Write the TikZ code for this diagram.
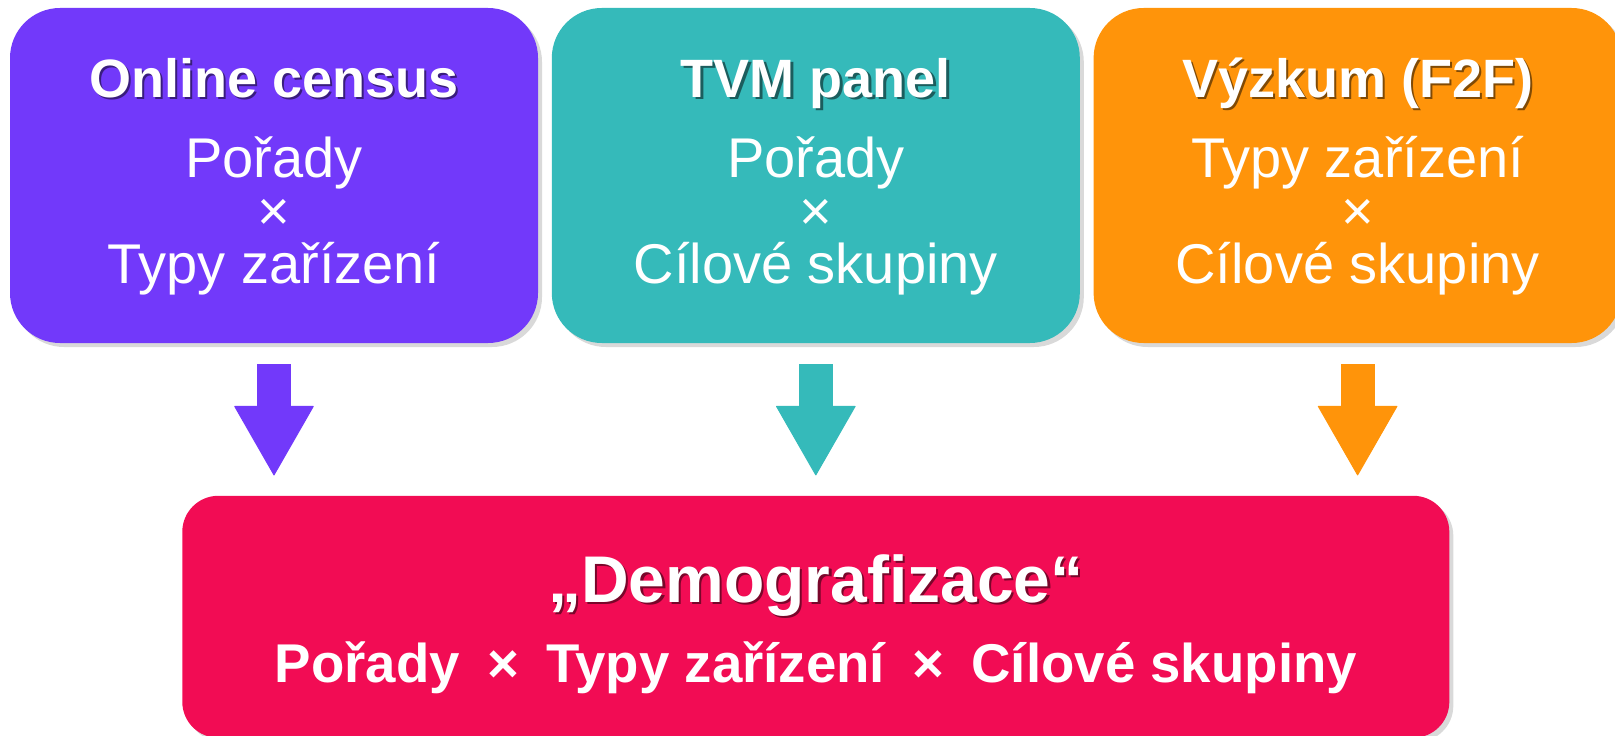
\documentclass[tikz,border=0pt]{standalone}
\usepackage{fontspec}
\setmainfont{Liberation Sans}
\usetikzlibrary{arrows.meta, positioning, shadows}

\definecolor{censuscol}{RGB}{114,57,250}
\definecolor{panelcol}{RGB}{53,186,186}
\definecolor{surveycol}{RGB}{255,148,10}
\definecolor{demogcol}{RGB}{242,12,84}

% white text with a dark offset copy behind it
\newcommand{\shd}[2]{\rlap{\kern1.2pt\raisebox{-1.2pt}{\textcolor{#1!50!black}{#2}}}#2}
\newcommand{\gap}{\hspace{0.5em}}

\begin{document}
\begin{tikzpicture}[
  source/.style={rounded corners=25pt, minimum width=264pt, minimum height=167.5pt,
    drop shadow={shadow xshift=2pt, shadow yshift=-2pt, opacity=0.3}},
  head/.style={text=white, anchor=base, font=\fontsize{27}{32}\selectfont\bfseries},
  body/.style={text=white, align=center, font=\fontsize{28}{26.5}\selectfont},
  flow/.style={line width=17pt, shorten <=10.5pt, shorten >=10pt,
    -{Triangle[length=35pt, width=40pt, line width=0.5pt, round]}}
]
\useasboundingbox (0,0) rectangle (807.5pt,367.5pt);

\node (census) [source, fill=censuscol] at (137pt,279.75pt) {};
\node (panel) [source, fill=panelcol, right=6.5pt of census] {};
\node (survey) [source, fill=surveycol, right=6.5pt of panel] {};
\node (demo) [below=76pt of panel, fill=demogcol, rounded corners=18pt,
  minimum width=633.5pt, minimum height=121pt,
  drop shadow={shadow xshift=2pt, shadow yshift=-2pt, opacity=0.3}] {};

\node (census-h) [head] at ([yshift=-45pt]census.north) {\shd{censuscol}{Online census}};
\node (census-b) [body] at ([yshift=-20.25pt]census.center) {Pořady\\×\\Typy zařízení};
\node (panel-h) [head] at ([yshift=-45pt]panel.north) {\shd{panelcol}{TVM panel}};
\node (panel-b) [body] at ([yshift=-20.25pt]panel.center) {Pořady\\×\\Cílové skupiny};
\node (survey-h) [head] at ([yshift=-45pt]survey.north) {\shd{surveycol}{Výzkum (F2F)}};
\node (survey-b) [body] at ([yshift=-20.25pt]survey.center) {Typy zařízení\\×\\Cílové skupiny};

\node (demo-h) [anchor=base, text=white, font=\fontsize{33}{38}\selectfont\bfseries]
  at ([yshift=-53.5pt]demo.north) {\shd{demogcol}{„Demografizace“}};
\node (demo-b) [anchor=base, text=white, font=\fontsize{27.3}{31}\selectfont\bfseries]
  at ([yshift=-93.5pt]demo.north) {Pořady\gap×\gap Typy zařízení\gap×\gap Cílové skupiny};

\draw[flow, censuscol] (census.south) -- (census.south |- demo.north);
\draw[flow, panelcol] (panel.south) -- (panel.south |- demo.north);
\draw[flow, surveycol] (survey.south) -- (survey.south |- demo.north);
\end{tikzpicture}
\end{document}
